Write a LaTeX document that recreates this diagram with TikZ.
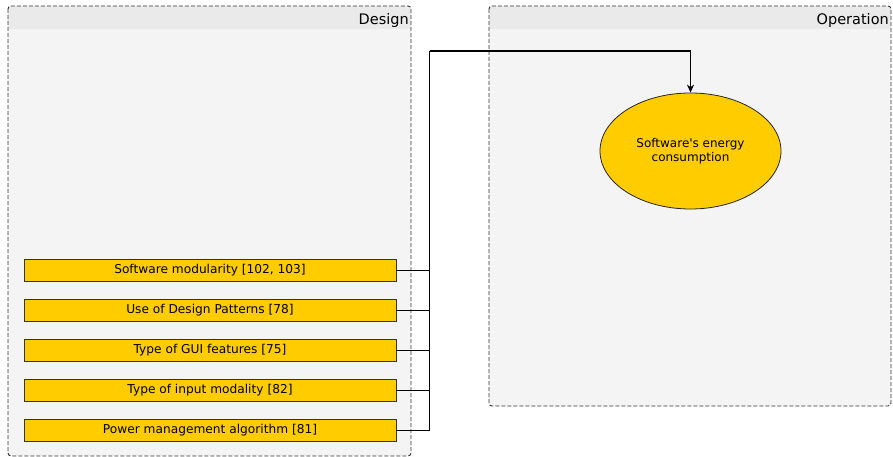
\documentclass[tikz,border=0pt]{standalone}
\usepackage{fontspec}
\setmainfont{DejaVu Sans}
\usetikzlibrary{arrows.meta,shapes.geometric}
\definecolor{hdr}{HTML}{EAEAEA}
\definecolor{bodyc}{HTML}{F4F4F4}
\definecolor{gold}{HTML}{FFCC00}
\begin{document}
\begin{tikzpicture}[x=1pt,y=-1pt,
  container/.style={draw=black!80,dash pattern=on 4pt off 2pt,line width=0.9pt,rounded corners=3pt},
  factor/.style={draw=black!80,fill=gold,line width=0.8pt,minimum width=372pt,minimum height=22pt,inner sep=0pt,font=\fontsize{12.2}{14}\selectfont},
  effect/.style={ellipse,draw=black!85,fill=gold,line width=0.8pt,minimum width=181pt,minimum height=116pt,inner sep=0pt,align=center,font=\fontsize{12}{14}\selectfont},
  title/.style={anchor=base east,inner sep=0pt,font=\fontsize{14.5}{16}\selectfont},
  conn/.style={draw=black,line width=0.8pt},
  arr/.style={conn,line width=1.1pt,-{Stealth[length=8pt,width=7pt]}}]
\useasboundingbox (0,0) rectangle (893,457);
% Design container
\begin{scope}
\clip[rounded corners=3pt] (8,6) rectangle (411,456);
\fill[bodyc] (8,6) rectangle (411,456);
\fill[hdr] (8,6) rectangle (411,29);
\end{scope}
\draw[container] (8,6) rectangle (411,456);
\node[title] (dtitle) at (409,25) {Design};
% Operation container
\begin{scope}
\clip[rounded corners=3pt] (489,6) rectangle (891,406);
\fill[bodyc] (489,6) rectangle (891,406);
\fill[hdr] (489,6) rectangle (891,29);
\end{scope}
\draw[container] (489,6) rectangle (891,406);
\node[title] (otitle) at (889,25) {Operation};
% nodes
\node[factor] (b1) at (210,270) {Software modularity [102, 103]};
\node[factor] (b2) at (210,310) {Use of Design Patterns [78]};
\node[factor] (b3) at (210,350) {Type of GUI features [75]};
\node[factor] (b4) at (210,390) {Type of input modality [82]};
\node[factor] (b5) at (210,430) {Power management algorithm [81]};
\node[effect] (e) at (690.5,151) {\raisebox{-2pt}{Software\textquotesingle s energy}\\\raisebox{-2pt}{consumption}};
\coordinate (j) at (429.5,51);
% connectors
\foreach \b in {b1,b2,b3,b4,b5}{
  \draw[conn] (\b.east) -- (\b.east -| j) -- (j);
}
\draw[arr] (j) -| (e.north);
\end{tikzpicture}
\end{document}
